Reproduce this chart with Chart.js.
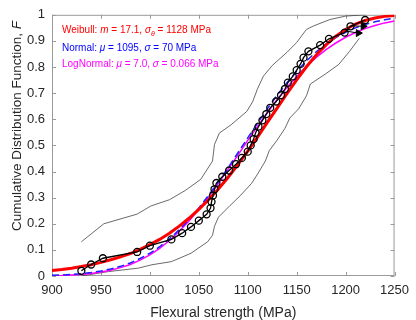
<!DOCTYPE html>
<html>
<head>
<meta charset="utf-8">
<script src="https://cdn.jsdelivr.net/npm/chart.js@4.4.1/dist/chart.umd.min.js"></script>
<style>
  html, body { margin: 0; padding: 0; background: #fff; }
  #cvs { display: block; }
</style>
</head>
<body>
<canvas id="cvs" width="416" height="320"></canvas>
<script>
// Empirical CDF (circles) — strength, MPa / F
const empX = [930, 940, 952, 987, 1000, 1022, 1033, 1042, 1050, 1058, 1062, 1063, 1064.5, 1066, 1068,
  1074, 1081, 1088, 1094, 1100, 1103, 1106, 1108, 1111, 1115, 1119, 1123, 1129, 1134, 1138,
  1141, 1146, 1150, 1154, 1157, 1162, 1174, 1183, 1199, 1205, 1220];
const empF = [0.020, 0.044, 0.068, 0.092, 0.116, 0.140, 0.164, 0.188, 0.212, 0.236, 0.260, 0.284, 0.308, 0.332, 0.356,
  0.380, 0.404, 0.428, 0.452, 0.476, 0.500, 0.524, 0.548, 0.572, 0.596, 0.620, 0.644, 0.668, 0.692, 0.716,
  0.740, 0.764, 0.788, 0.812, 0.836, 0.860, 0.884, 0.908, 0.932, 0.956, 0.980];

// fitted curves, read at every 10 MPa
const fitX = [900, 910, 920, 930, 940, 950, 960, 970, 980, 990, 1000, 1010, 1020, 1030, 1040, 1050, 1060, 1070,
  1080, 1090, 1100, 1110, 1120, 1130, 1140, 1150, 1160, 1170, 1180, 1190, 1200, 1210, 1220, 1230, 1240, 1250];
const weibullF = [0.021, 0.025, 0.030, 0.036, 0.043, 0.052, 0.062, 0.073, 0.086, 0.102, 0.120, 0.140, 0.164, 0.191,
  0.221, 0.255, 0.292, 0.333, 0.378, 0.427, 0.478, 0.532, 0.588, 0.643, 0.698, 0.751, 0.801, 0.846, 0.885, 0.918,
  0.944, 0.964, 0.978, 0.988, 0.994, 0.997];
const normalF = [0.003, 0.004, 0.006, 0.009, 0.013, 0.019, 0.027, 0.037, 0.050, 0.067, 0.087, 0.112, 0.142, 0.177,
  0.216, 0.260, 0.309, 0.361, 0.415, 0.472, 0.529, 0.585, 0.640, 0.692, 0.740, 0.784, 0.823, 0.858, 0.888, 0.913,
  0.933, 0.950, 0.963, 0.973, 0.981, 0.987];
const lognormF = [0.001, 0.002, 0.004, 0.006, 0.010, 0.015, 0.022, 0.032, 0.044, 0.061, 0.081, 0.106, 0.136, 0.171,
  0.211, 0.255, 0.303, 0.355, 0.409, 0.463, 0.519, 0.573, 0.625, 0.675, 0.722, 0.764, 0.803, 0.837, 0.867, 0.892,
  0.914, 0.932, 0.947, 0.959, 0.969, 0.976];

// confidence bounds (thin lines)
const upX = [930, 953, 987, 1001, 1020, 1036, 1052, 1064, 1066, 1071, 1083, 1099, 1105, 1110, 1116, 1125, 1140,
  1150, 1160, 1167, 1184, 1200, 1220];
const upF = [0.131, 0.200, 0.237, 0.268, 0.292, 0.327, 0.370, 0.440, 0.503, 0.547, 0.579, 0.630, 0.667, 0.717,
  0.765, 0.806, 0.856, 0.894, 0.944, 0.957, 0.982, 0.995, 1.000];
const loX = [930, 958, 988, 1002, 1022, 1042, 1059, 1064, 1066, 1070, 1082, 1093, 1104, 1110, 1118, 1122, 1130,
  1138, 1143, 1152, 1160, 1164, 1180, 1193, 1204, 1214];
const loF = [0.000, 0.017, 0.030, 0.043, 0.055, 0.087, 0.131, 0.156, 0.190, 0.225, 0.270, 0.310, 0.355, 0.390,
  0.440, 0.480, 0.520, 0.565, 0.605, 0.640, 0.690, 0.735, 0.775, 0.810, 0.860, 0.910];

// arrows near the top (start -> head)
const arrowX = [[1200, 1213], [1205, 1218]];
const arrowF = [[0.938, 0.930], [0.958, 0.956]];

const xTicks = [900, 950, 1000, 1050, 1100, 1150, 1200, 1250];
const yTicks = [0, 0.1, 0.2, 0.3, 0.4, 0.5, 0.6, 0.7, 0.8, 0.9, 1];

const pts = (xs, ys) => xs.map((x, i) => ({ x, y: ys[i] }));
const FONT = '"Liberation Sans", Arial, sans-serif';

// box + inward ticks (matlab look)
const boxPlugin = {
  id: 'box',
  beforeDatasetsDraw(chart) {
    const { ctx, chartArea: a, scales: { x, y } } = chart;
    ctx.save();
    ctx.strokeStyle = '#9a9a9a'; ctx.lineWidth = 1;
    ctx.strokeRect(a.left + 0.5, a.top + 0.5, a.right - a.left - 1, a.bottom - a.top - 1);
    ctx.beginPath();
    for (const v of xTicks) {
      const px = Math.round(x.getPixelForValue(v)) + 0.5;
      ctx.moveTo(px, a.bottom); ctx.lineTo(px, a.bottom - 4);
      ctx.moveTo(px, a.top); ctx.lineTo(px, a.top + 4);
    }
    for (const v of yTicks) {
      const py = Math.round(y.getPixelForValue(v)) + 0.5;
      ctx.moveTo(a.left, py); ctx.lineTo(a.left + 4, py);
      ctx.moveTo(a.right, py); ctx.lineTo(a.right - 4, py);
    }
    ctx.stroke();
    ctx.restore();
  }
};

// draw runs of [text, italic, sub]
function drawRuns(ctx, x0, y0, runs, size) {
  let cx = x0;
  for (const [t, it, sub] of runs) {
    const s = sub ? size * 0.7 : size;
    ctx.font = `${it ? 'italic ' : ''}${s}px ${FONT}`;
    ctx.fillText(t, cx, y0 + (sub ? 3 : 0));
    cx += ctx.measureText(t).width;
  }
}

const textPlugin = {
  id: 'texts',
  afterDraw(chart) {
    const { ctx, chartArea: a } = chart;
    ctx.save();
    ctx.textBaseline = 'alphabetic'; ctx.textAlign = 'left';
    ctx.fillStyle = '#ff0000';
    drawRuns(ctx, 62, 33, [['Weibull: '], ['m', 1], [' = 17.1, '], ['σ', 1], ['θ', 1, 1], [' = 1128 MPa']], 10);
    ctx.fillStyle = '#0000ff';
    drawRuns(ctx, 62, 51, [['Normal: '], ['μ', 1], [' = 1095, '], ['σ', 1], [' = 70 MPa']], 10);
    ctx.fillStyle = '#ff00ff';
    drawRuns(ctx, 62, 67, [['LogNormal: '], ['μ', 1], [' = 7.0, '], ['σ', 1], [' = 0.066 MPa']], 10);

    // axis titles
    ctx.fillStyle = '#262626';
    ctx.font = `14px ${FONT}`;
    ctx.textAlign = 'center';
    ctx.fillText('Flexural strength (MPa)', (a.left + a.right) / 2, 317);
    ctx.translate(21, 231);
    ctx.rotate(-Math.PI / 2);
    ctx.textAlign = 'left';
    drawRuns(ctx, 0, 0, [['Cumulative Distribution Function, '], ['F', 1]], 13.5);
    ctx.restore();
  }
};

const line = (data, color, width, extra) => Object.assign({
  data, borderColor: color, borderWidth: width, showLine: true,
  pointRadius: 0, fill: false, tension: 0,
}, extra || {});

const arrowSets = arrowX.map((xs, i) => line(pts(xs, arrowF[i]), '#000', 1, {
  pointRadius: [0, 4], pointStyle: 'triangle', pointRotation: 90,
  pointBackgroundColor: '#000', pointBorderColor: '#000',
}));

new Chart(document.getElementById('cvs'), {
  type: 'scatter',
  data: {
    datasets: [
      line(pts(empX, empF), '#000', 1.3, {
        pointRadius: 3.5, pointStyle: 'circle', pointBorderWidth: 1.3,
        pointBackgroundColor: 'rgba(0,0,0,0)', pointBorderColor: '#000',
      }),
      ...arrowSets,
      line(pts(fitX, weibullF), '#ff0000', 3),
      line(pts(fitX, normalF), '#1f1fff', 1.5, { borderDash: [7, 4] }),
      line(pts(fitX, lognormF), '#ff00ff', 1.5),
      line(pts(upX, upF), '#444', 0.8),
      line(pts(loX, loF), '#444', 0.8),
    ],
  },
  options: {
    responsive: false, animation: false,
    layout: { padding: { top: 12, right: 17, left: 0, bottom: 0 } },
    plugins: { legend: { display: false }, tooltip: { enabled: false }, title: { display: false } },
    scales: {
      x: {
        type: 'linear', min: 900, max: 1250,
        grid: { display: false, drawTicks: false }, border: { display: false },
        ticks: { stepSize: 50, padding: 7, color: '#262626', font: { size: 13, family: FONT }, maxRotation: 0,
          callback: (v) => String(v) },
        afterFit: (s) => { s.height = 44; },
      },
      y: {
        min: 0, max: 1,
        grid: { display: false, drawTicks: false }, border: { display: false },
        ticks: { stepSize: 0.1, padding: 7, color: '#262626', font: { size: 13, family: FONT },
          callback: (v) => String(Number(v.toFixed(1))) },
        afterFit: (s) => { s.width = 52; },
      },
    },
  },
  plugins: [boxPlugin, textPlugin],
});
</script>
</body>
</html>
